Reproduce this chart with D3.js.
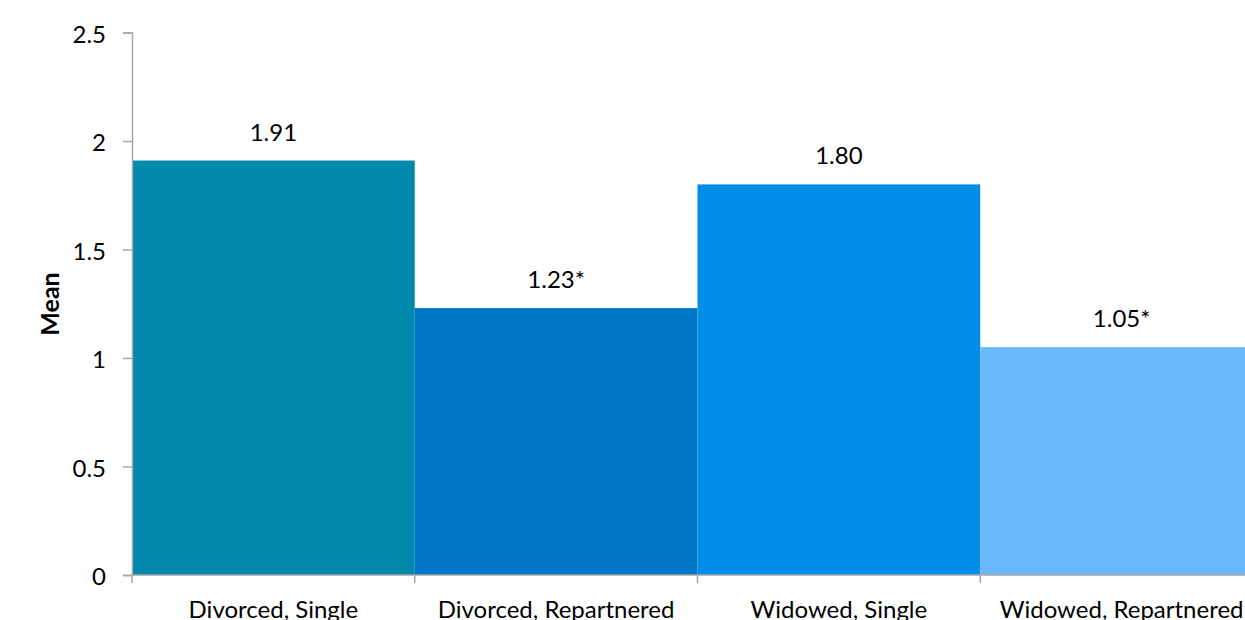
<!DOCTYPE html>
<html>
<head>
<meta charset="utf-8">
<script src="https://cdn.jsdelivr.net/npm/d3@7"></script>
<style>
  html, body { margin: 0; padding: 0; background: #fff; overflow: hidden; }
  svg text { font-family: "Lato", "Open Sans", "Noto Sans", sans-serif; fill: #000; }
</style>
</head>
<body>
<svg id="chart" width="1245" height="620"></svg>
<script>
// Mean scores by marital status group
const categories = ["Divorced, Single", "Divorced, Repartnered", "Widowed, Single", "Widowed, Repartnered"];
const means = [1.91, 1.23, 1.80, 1.05];
const valueLabels = ["1.91", "1.23*", "1.80", "1.05*"];
const barColors = ["#0089AA", "#0077C9", "#008EE8", "#6BB8FF"];
const yTicks = [0, 0.5, 1, 1.5, 2, 2.5];

const svg = d3.select("#chart");
const plotLeft = 132, plotRight = 1263, plotTop = 32.5, plotBottom = 575;

const x = d3.scaleBand().domain(categories).range([plotLeft, plotRight]).padding(0);
const y = d3.scaleLinear().domain([0, 2.5]).range([plotBottom, plotTop]);

// bars
svg.append("g").selectAll("rect")
  .data(categories)
  .join("rect")
  .attr("x", d => x(d))
  .attr("y", (d, i) => y(means[i]))
  .attr("width", x.bandwidth())
  .attr("height", (d, i) => y(0) - y(means[i]))
  .attr("fill", (d, i) => barColors[i]);

// value labels
svg.append("g").selectAll("text")
  .data(categories)
  .join("text")
  .attr("x", d => x(d) + x.bandwidth() / 2)
  .attr("y", (d, i) => y(means[i]) - 20)
  .attr("text-anchor", "middle")
  .style("font-size", "24px")
  .text((d, i) => valueLabels[i]);

// y axis
const yAxis = svg.append("g")
  .attr("transform", `translate(${plotLeft},0)`)
  .call(d3.axisLeft(y).tickValues(yTicks).tickFormat(d3.format("")).tickSize(9).tickPadding(17));
yAxis.select(".domain").attr("stroke", "#a6a6a6").attr("stroke-width", 1.5);
yAxis.selectAll(".tick line").attr("stroke", "#a6a6a6").attr("stroke-width", 1.5);
yAxis.selectAll(".tick text").style("font-size", "24px").attr("fill", "#000").attr("dy", "0.4em");

// x axis with ticks at category boundaries
const xAxisG = svg.append("g").attr("transform", `translate(0,${plotBottom})`);
xAxisG.append("line")
  .attr("x1", plotLeft).attr("x2", plotRight)
  .attr("y1", 0).attr("y2", 0)
  .attr("stroke", "#a6a6a6").attr("stroke-width", 1.5);
xAxisG.selectAll(".bound")
  .data(categories)
  .join("line")
  .attr("class", "bound")
  .attr("x1", d => x(d)).attr("x2", d => x(d))
  .attr("y1", 0).attr("y2", 8)
  .attr("stroke", "#a6a6a6").attr("stroke-width", 1.5);
xAxisG.selectAll(".cat")
  .data(categories)
  .join("text")
  .attr("class", "cat")
  .attr("x", d => x(d) + x.bandwidth() / 2)
  .attr("y", 43)
  .attr("text-anchor", "middle")
  .style("font-size", "24px")
  .text(d => d);

// y axis title
svg.append("text")
  .attr("transform", "translate(59,304) rotate(-90)")
  .attr("text-anchor", "middle")
  .style("font-size", "25px")
  .style("font-weight", "bold")
  .text("Mean");
</script>
</body>
</html>
